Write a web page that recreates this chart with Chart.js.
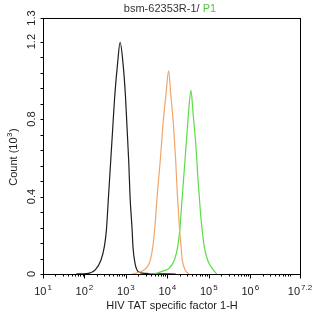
<!DOCTYPE html>
<html>
<head>
<meta charset="utf-8">
<script src="https://cdn.jsdelivr.net/npm/chart.js@4/dist/chart.umd.min.js"></script>
<style>
  html, body { margin: 0; padding: 0; background: #fff; }
  #wrap { width: 314px; height: 317px; }
</style>
</head>
<body>
<div id="wrap"><canvas id="histo" width="314" height="317"></canvas></div>
<script>
// x values are log10 of the fluorescence, y is count in thousands
const blackX  = [1.8, 2.06, 2.26, 2.40, 2.48, 2.53, 2.58, 2.63, 2.68, 2.73, 2.80, 2.86, 2.93, 2.99, 3.03, 3.07, 3.10, 3.15, 3.17, 3.22, 3.30, 3.47, 3.71, 4.2];
const blackY  = [0, 0.002, 0.021, 0.072, 0.141, 0.228, 0.400, 0.572, 0.745, 0.917, 1.089, 1.196, 1.089, 0.917, 0.745, 0.572, 0.400, 0.228, 0.141, 0.055, 0.012, 0.003, 0.001, 0];

const isoX    = [3.15, 3.30, 3.40, 3.52, 3.59, 3.65, 3.70, 3.76, 3.83, 3.89, 3.97, 4.03, 4.08, 4.15, 4.20, 4.24, 4.29, 4.33, 4.36, 4.43, 4.51];
const isoY    = [0, 0.008, 0.016, 0.038, 0.072, 0.141, 0.245, 0.417, 0.589, 0.762, 0.934, 1.051, 0.934, 0.762, 0.589, 0.417, 0.245, 0.141, 0.072, 0.021, 0.001];

const p1X     = [3.55, 3.71, 3.90, 4.04, 4.17, 4.25, 4.30, 4.33, 4.39, 4.45, 4.51, 4.57, 4.62, 4.69, 4.74, 4.80, 4.84, 4.89, 4.97, 5.11, 5.19];
const p1Y     = [0, 0.002, 0.016, 0.029, 0.072, 0.141, 0.228, 0.314, 0.486, 0.658, 0.831, 0.948, 0.831, 0.658, 0.486, 0.314, 0.228, 0.141, 0.072, 0.021, 0.001];

const xMajor  = [1, 2, 3, 4, 5, 6, 7.2];
const xLabels = ["1", "2", "3", "4", "5", "6", "7.2"];
const yMajor  = [0, 0.4, 0.8, 1.2];
const yMax    = 1.322;
const yTopLabel = "1.3";

const FONT = '"Liberation Sans", Arial, sans-serif';
const INK = "#222";

function pts(xs, ys) { return xs.map((x, i) => ({x: x, y: ys[i]})); }

const axesPlugin = {
  id: "flowAxes",
  afterDraw(chart) {
    const ctx = chart.ctx, a = chart.chartArea;
    const xs = chart.scales.x, ys = chart.scales.y;
    ctx.save();
    ctx.strokeStyle = "#000";
    ctx.lineWidth = 1;
    ctx.strokeRect(Math.round(a.left) + .5, Math.round(a.top) + .5, Math.round(a.right - a.left), Math.round(a.bottom - a.top));

    // x ticks: majors at decades, minors at 2..9
    const by = Math.round(a.bottom) + .5;
    ctx.beginPath();
    for (let d = 1; d <= 7; d++) {
      for (let m = 2; m <= 9; m++) {
        const v = d + Math.log10(m);
        if (v > 7.2) break;
        const px = Math.round(xs.getPixelForValue(v)) + .5;
        ctx.moveTo(px, by); ctx.lineTo(px, by + 2);
      }
    }
    xMajor.forEach(v => {
      const px = Math.round(xs.getPixelForValue(v)) + .5;
      ctx.moveTo(px, by); ctx.lineTo(px, by + 4);
    });
    // y ticks
    const lx = Math.round(a.left) + .5;
    for (let k = 0; k <= 15; k++) {
      const py = Math.round(ys.getPixelForValue(k * 0.08)) + .5;
      ctx.moveTo(lx, py); ctx.lineTo(lx - 3, py);
    }
    ctx.moveTo(lx, Math.round(a.top) + .5); ctx.lineTo(lx - 3, Math.round(a.top) + .5);
    ctx.stroke();

    // x tick labels: 10 with superscript exponent
    ctx.fillStyle = INK;
    ctx.textBaseline = "alphabetic";
    xMajor.forEach((v, i) => {
      ctx.font = "11px " + FONT;
      const wb = ctx.measureText("10").width;
      ctx.font = "8px " + FONT;
      const we = ctx.measureText(xLabels[i]).width;
      const total = wb + 1 + we;
      const x0 = xs.getPixelForValue(v) - total / 2;
      ctx.font = "11px " + FONT;
      ctx.textAlign = "left";
      ctx.fillText("10", x0, 295);
      ctx.font = "8px " + FONT;
      ctx.fillText(xLabels[i], x0 + wb + 1, 290);
    });

    // y tick labels, rotated
    ctx.font = "11px " + FONT;
    ctx.textAlign = "center";
    const yl = yMajor.map(v => [v, String(v)]).concat([[yMax, yTopLabel]]);
    yl.forEach(([v, t]) => {
      ctx.save();
      ctx.translate(35, ys.getPixelForValue(v));
      ctx.rotate(-Math.PI / 2);
      ctx.fillText(t, 0, 0);
      ctx.restore();
    });

    // axis titles
    ctx.textAlign = "center";
    ctx.fillText("HIV TAT specific factor 1-H", 172, 309);

    ctx.save();
    ctx.translate(17, 157);
    ctx.rotate(-Math.PI / 2);
    ctx.font = "11px " + FONT;
    const w1 = ctx.measureText("Count (10").width;
    ctx.font = "8px " + FONT;
    const w2 = ctx.measureText("3").width;
    ctx.font = "11px " + FONT;
    const w3 = ctx.measureText(")").width;
    let sx = -(w1 + w2 + w3 + 1) / 2;
    ctx.textAlign = "left";
    ctx.fillText("Count (10", sx, 0);
    ctx.font = "8px " + FONT;
    ctx.fillText("3", sx + w1 + 0.5, -5);
    ctx.font = "11px " + FONT;
    ctx.fillText(")", sx + w1 + w2 + 1, 0);
    ctx.restore();

    // title, with the gate name in green
    ctx.font = "11px " + FONT;
    const t1 = "bsm-62353R-1/ ", t2 = "P1";
    const tw1 = ctx.measureText(t1).width, tw2 = ctx.measureText(t2).width;
    const tx = 170 - (tw1 + tw2) / 2;
    ctx.textAlign = "left";
    ctx.fillStyle = "#333";
    ctx.fillText(t1, tx, 12);
    ctx.fillStyle = "#4ccc3c";
    ctx.fillText(t2, tx + tw1, 12);
    ctx.restore();
  }
};

function series(label, xs, ys, color) {
  return {label: label, data: pts(xs, ys), borderColor: color, borderWidth: 1.2, pointRadius: 0, showLine: true, fill: false, cubicInterpolationMode: "monotone"};
}

new Chart(document.getElementById("histo"), {
  type: "scatter",
  data: {
    datasets: [
      series("Isotype", isoX, isoY, "#f0a66a"),
      series("P1", p1X, p1Y, "#5cdc44"),
      series("Blank", blackX, blackY, "#1e1e1e")
    ]
  },
  options: {
    responsive: false, animation: false, clip: false,
    layout: {padding: {left: 43, right: 14, top: 18, bottom: 43}},
    plugins: {legend: {display: false}, tooltip: {enabled: false}},
    scales: {
      x: {type: "linear", min: 1, max: 7.2, display: false},
      y: {type: "linear", min: 0, max: yMax, display: false}
    }
  },
  plugins: [axesPlugin]
});
</script>
</body>
</html>
